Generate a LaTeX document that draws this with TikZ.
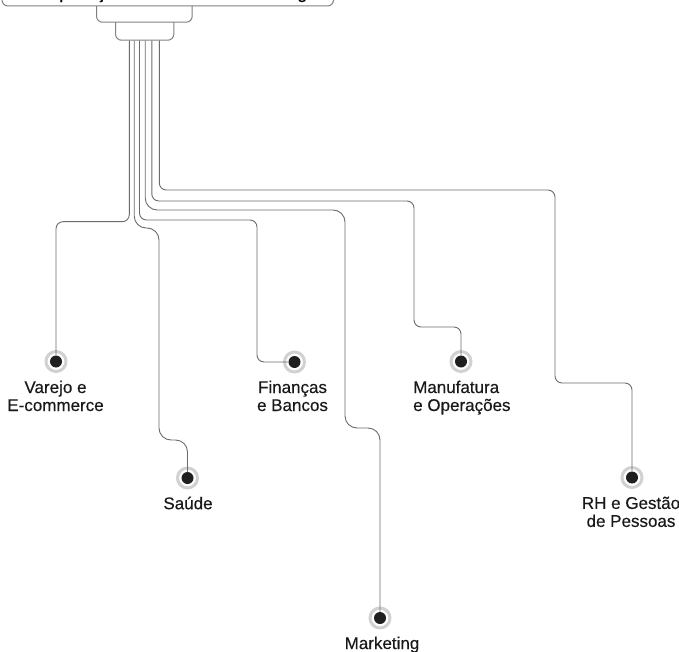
\documentclass[tikz,border=0pt]{standalone}
\usepackage{fontspec}
\setmainfont{Liberation Sans}
\newfontfamily\medfont[FakeBold=0.35]{Liberation Sans}
\begin{document}
\begin{tikzpicture}[x=1pt,y=-1pt,
  box/.style={draw=black!50, line width=1pt, fill=white, rounded corners=6pt, inner sep=0pt, anchor=south west},
  wire/.style={draw=black!58, line width=0.9pt, rounded corners=7pt},
  swire/.style={draw=black!58, line width=0.9pt, rounded corners=12pt},
  ring/.style={circle, draw=black!18, line width=3pt, minimum size=20pt, inner sep=0pt},
  dot/.style={circle, fill=black!88, minimum size=12pt, inner sep=0pt},
  lbl/.style={font=\medfont\fontsize{17}{18}\selectfont, text=black!90, inner sep=0pt, align=center, anchor=north},
]
\useasboundingbox (0,0) rectangle (679,652);
\begin{scope}
\clip (0,0) rectangle (679,652);
% plug boxes
\node[box, minimum width=58.3pt, minimum height=26pt] (plug) at (115,40.7) {};
\node[box, minimum width=95.7pt, minimum height=28pt] (neck) at (96,22.7) {};
\node[box, minimum width=331.5pt, minimum height=50pt] (title) at (1.5,6.5) {};
\node[font=\medfont\fontsize{18}{20}\selectfont, inner sep=0pt, anchor=base west] (titletext) at (47,-1.6) {Aplicações de Machine Learning};
\end{scope}
% wire starts
\coordinate (w1) at (129.3,40.7);
\coordinate (w2) at (134.2,40.7);
\coordinate (w3) at (139.5,40.7);
\coordinate (w4) at (145.2,40.7);
\coordinate (w5) at (151.8,40.7);
\coordinate (w6) at (159.3,40.7);
% rings
\node[ring] (r1) at (56,361.5) {};
\node[ring] (r2) at (187.5,478) {};
\node[ring] (r3) at (294.5,362) {};
\node[ring] (r4) at (380,618) {};
\node[ring] (r5) at (461,361.5) {};
\node[ring] (r6) at (632,477.5) {};
% dots
\node[dot] (d1) at (r1) {};
\node[dot] (d2) at (r2) {};
\node[dot] (d3) at (r3) {};
\node[dot] (d4) at (r4) {};
\node[dot] (d5) at (r5) {};
\node[dot] (d6) at (r6) {};
% connectors
\draw[wire] (w1) -- (129.3,221.7) -- (56,221.7) -- (d1);
\draw[swire] (w2) -- (134.2,228) -- (159,228) -- (159,440) -- (187.5,440) -- (d2);
\draw[wire] (w3) -- (139.5,220) -- (257,220) -- (257,362) -- (d3);
\draw[swire] (w4) -- (145.2,210) -- (345,210) -- (345,428) -- (380,428) -- (d4);
\draw[wire] (w5) -- (151.8,201) -- (414,201) -- (414,327) -- (461,327) -- (d5);
\draw[wire] (w6) -- (159.3,190) -- (555,190) -- (555,383) -- (632,383) -- (d6);
% labels
\node[lbl] (l1) at (55.5,380.5) {Varejo e\\E-commerce};
\node[lbl] (l2) at (188,496.5) {Saúde};
\node[lbl] (l3) at (292.5,380.5) {Finanças\\e Bancos};
\node[lbl] (l4) at (382,636.5) {Marketing};
\node[lbl, align=left, anchor=north west] (l5) at (413,380.5) {Manufatura\\e Operações};
\node[lbl] (l6) at (631,496.5) {RH e Gestão\\de Pessoas};
\end{tikzpicture}
\end{document}
